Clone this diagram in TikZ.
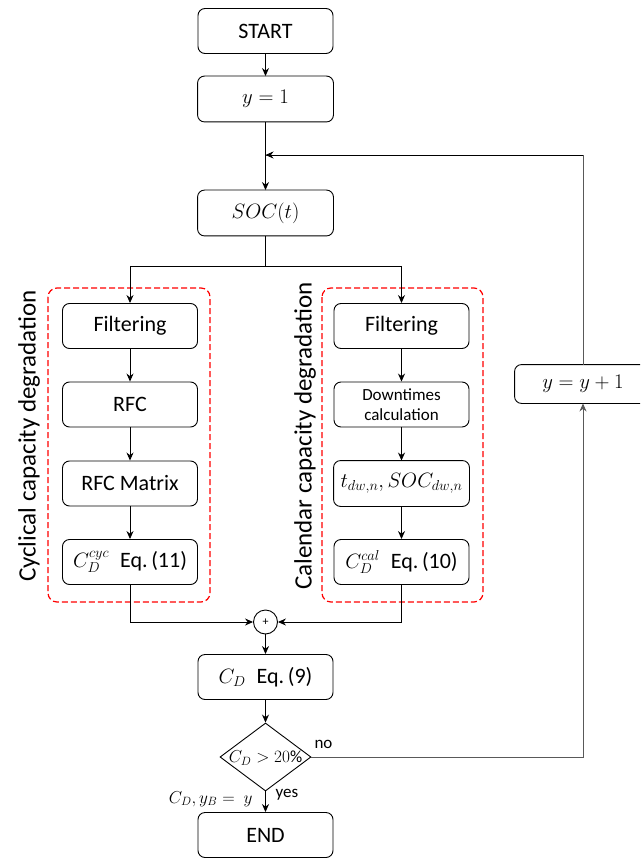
\documentclass[tikz,border=0pt]{standalone}
\usepackage{fontspec}
\setmainfont{Carlito}
\usetikzlibrary{arrows.meta,shapes.geometric}
\begin{document}
\begin{tikzpicture}[x=1pt,y=-1pt,
  box/.style={draw=black,line width=0.9pt,rounded corners=7pt,minimum width=135pt,minimum height=45pt,inner sep=0pt,font=\fontsize{22}{25}\selectfont},
  mathbox/.style={box,draw=none},
  frame/.style={draw=black,line width=0.9pt,rounded corners=7pt},
  conn/.style={draw,line width=0.9pt,-{Stealth[length=8pt,width=7pt]}},
  plain/.style={draw,line width=0.9pt},
  loopline/.style={draw=black!65,line width=0.9pt},
  group/.style={draw=red,dashed,line width=1.2pt,dash pattern=on 6pt off 3pt,rounded corners=9pt},
  sidelabel/.style={rotate=90,font=\fontsize{25}{28}\selectfont},
  small/.style={font=\fontsize{17}{20}\selectfont}]
\useasboundingbox (0,0) rectangle (640,858);
\clip (0,0) rectangle (640,858);

% main column
\node[box] (start) at (265.5,31) {START};
\node[mathbox] (y1) at (265.5,99) {$y=1$};
\draw[frame] (y1.south west) rectangle (y1.north east);
\node[mathbox] (soc) at (265.5,213) {$SOC(t)$};
\draw[frame] (soc.south west) rectangle (soc.north east);

% cyclical branch
\node[box] (filtL) at (130,326) {Filtering};
\node[box] (rfc) at (130,404.5) {RFC};
\node[box] (rfcm) at (130,483.5) {RFC Matrix};
\node[box] (ccyc) at (130,562) {$C_D^{cyc}$\enspace Eq.\,(11)};

% calendar branch
\node[box] (filtR) at (401.5,326) {Filtering};
\node[box,font=\fontsize{17}{20}\selectfont,align=center] (down) at (401.5,404.5) {Downtimes\\calculation};
\node[mathbox] (tdw) at (401.5,483.5) {$t_{dw,n}, SOC_{dw,n}$};
\draw[frame] (tdw.south west) rectangle (tdw.north east);
\node[box] (ccal) at (401.5,562) {$C_D^{cal}$\enspace Eq.\,(10)};

% dashed groups
\draw[group] (48,288) rectangle (210,602);
\draw[group] (322,288) rectangle (483,602);
\node[sidelabel] (labL) at (29,436) {Cyclical capacity degradation};
\node[sidelabel] (labR) at (305,436) {Calendar capacity degradation};

% summation and result
\node[draw,circle,minimum size=24pt,inner sep=0pt,line width=0.9pt,font=\fontsize{12}{13}\selectfont] (sum) at (265.5,622) {+};
\node[box] (cd) at (265.5,677) {$C_D$\enspace Eq.\,(9)};
\node[diamond,draw=black,line width=0.9pt,minimum width=91pt,minimum height=68pt,inner sep=0pt] (dec) at (265.5,757) {};
\node[font=\fontsize{17}{20}\selectfont] (dectxt) at (265.5,758) {$C_D>20\%$};
\node[box] (fin) at (265.5,835) {END};
\node[mathbox,minimum width=136pt,minimum height=38pt] (inc) at (583,384) {$y=y+1$};
\draw[frame] (inc.south west) rectangle (inc.north east);

% connectors
\coordinate (join) at (265.5,155);
\coordinate (split) at (265.5,266);
\coordinate (splitL) at (130,266);
\coordinate (splitR) at (401.5,266);
\path[conn] (start) -- (y1);
\path[plain] (y1) -- (join);
\path[conn] (join) -- (soc);
\path[plain] (soc) -- (split);
\path[plain] (splitL) -- (splitR);
\path[conn] (splitL) -- (filtL);
\path[conn] (splitR) -- (filtR);
\path[conn] (filtL) -- (rfc);
\path[conn] (rfc) -- (rfcm);
\path[conn] (rfcm) -- (ccyc);
\path[conn] (filtR) -- (down);
\path[conn] (down) -- (tdw);
\path[conn] (tdw) -- (ccal);
\path[conn] (ccyc.south) |- (sum.west);
\path[conn] (ccal.south) |- (sum.east);
\path[conn] (sum) -- (cd);
\path[conn] (cd) -- (dec);
\path[conn] (dec) -- (fin);
\path[loopline,-{Stealth[length=8pt,width=7pt]}] (dec.east) -| (inc.south);
\path[loopline] (inc.north) |- (join);
\path[conn] (inc.north |- join) -- (join);

% edge labels
\node[small,anchor=south west] (nolab) at (311,752) {no};
\node[small,anchor=west] (yeslab) at (272,795) {yes};
\node[font=\fontsize{18}{21}\selectfont,anchor=east] (cdlab) at (256,799) {$C_D, y_B =\ y$};
\end{tikzpicture}
\end{document}
